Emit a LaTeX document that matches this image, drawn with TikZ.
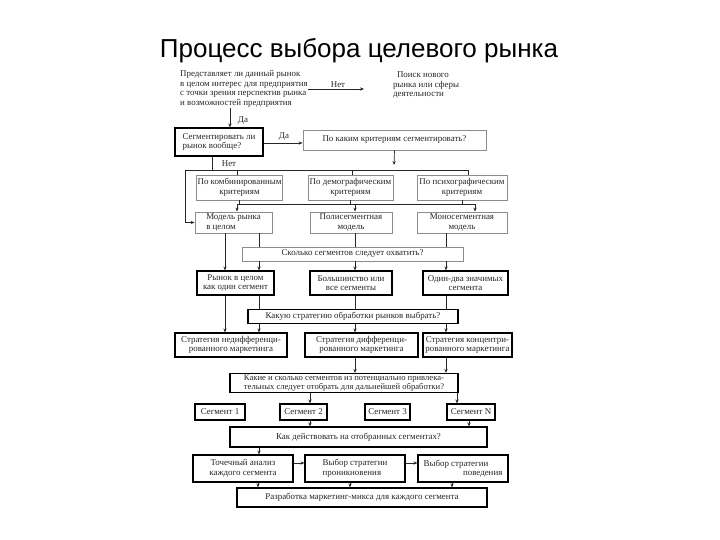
\documentclass[tikz,border=0pt]{standalone}
\usepackage{fontspec}
\setmainfont{Liberation Serif}
\newfontfamily\arialf{Liberation Sans}
\usetikzlibrary{arrows.meta}
\newcommand{\smallf}{\fontsize{8.9}{9.6}\selectfont}
\newcommand{\tightf}{\fontsize{8.6}{8.8}\selectfont}
\tikzset{
  bx/.style={draw=black, line width=1.1pt, inner sep=1pt, font=\smallf, align=center, text=black!85},
  bxl/.style={draw=black!45, line width=0.8pt, inner sep=1pt, font=\smallf, align=center, text=black!85},
  txt/.style={inner sep=0pt, font=\smallf, text=black!85},
  ln/.style={line width=0.7pt, draw=black!85},
  arr/.style={ln, -{Stealth[length=4pt,width=3.2pt]}},
  lbl/.style={inner sep=0pt, font=\smallf, text=black!85}
}
\begin{document}
\begin{tikzpicture}[x=1pt,y=-1pt]
\useasboundingbox (0,0) rectangle (720,540);
\fill[white] (0,0) rectangle (720,540);

\node[font=\arialf\fontsize{26}{29}\selectfont] (title) at (359,51) {Процесс выбора целевого рынка};

% top
\node[txt, align=left] (n1) at (244,89) {Представляет ли данный рынок\\в целом интерес для предприятия\\с точки зрения перспектив рынка\\и возможностей предприятия};
\node[txt, align=left] (search) at (426,85) {\hspace*{4pt}Поиск нового\\рынка или сферы\\деятельности};
\coordinate (sarr) at (364,89);
\draw[arr] (n1.east |- sarr) -- (sarr);
\node[lbl] (lnet1) at (338,85) {Нет};

\node[bx, align=left, minimum width=88pt, minimum height=28pt] (b2) at (219,142) {Сегментировать ли\\рынок вообще?};
\draw[arr] (230,0 |- n1.south) -- (230,0 |- b2.north);
\node[lbl] (lda1) at (243,121) {Да};

\node[bxl, minimum width=183pt, minimum height=20pt] (b3) at (394.5,140) {По каким критериям сегментировать?};
\draw[arr] (b2.east |- 0,143) -- (b3.west |- 0,143);
\node[lbl] (lda2) at (284,137) {Да};
\coordinate (b3end) at (394,165);
\draw[arr] (b3.south) -- (b3end);

% bus 1
\coordinate (busL) at (185,170);
\coordinate (busR) at (468,170);
\draw[ln] (212,0 |- b2.south) -- (212,170);
\node[lbl] (lnet2) at (229,164) {Нет};
\draw[ln] (busL) -- (busR);

% criteria
\node[bxl, minimum width=85pt, minimum height=25pt] (c1) at (239.5,187.5) {По комбинированным\\критериям};
\node[bxl, minimum width=85pt, minimum height=25pt] (c2) at (350.5,187.5) {По демографическим\\критериям};
\node[bxl, minimum width=90pt, minimum height=25pt] (c3) at (462,187.5) {По психографическим\\критериям};
\draw[ln] (237,170) -- (237,0 |- c1.north);
\draw[ln] (352,170) -- (352,0 |- c2.north);
\draw[ln] (468,170) -- (468,0 |- c3.north);

% bus 2
\draw[ln] (c1.south) -- (239.5,204);
\draw[ln] (c2.south) -- (350.5,204);
\draw[ln] (c3.south) -- (462,204);
\draw[ln] (237,204) -- (475,204);

% models
\node[bxl, align=left, minimum width=77pt, minimum height=21pt] (m1) at (233.5,222.5) {Модель рынка\\в целом\hspace*{22pt}};
\node[bxl, minimum width=82pt, minimum height=21pt] (m2) at (351,222.5) {Полисегментная\\модель};
\node[bxl, minimum width=90pt, minimum height=21pt] (m3) at (462,222.5) {Моносегментная\\модель};
\draw[arr] (237,204) -- (237,0 |- m1.north);
\draw[arr] (355,204) -- (355,0 |- m2.north);
\draw[arr] (475,204) -- (475,0 |- m3.north);
\draw[arr] (busL) -- (185,0 |- m1.west) -- (m1.west);

% how many segments
\node[bxl, minimum width=221pt, minimum height=14pt] (q2) at (352.5,254) {Сколько сегментов следует охватить?};
\draw[ln] (259,0 |- m1.south) -- (259,0 |- q2.north);
\draw[ln] (355,0 |- m2.south) -- (355,0 |- q2.north);
\draw[ln] (446,0 |- m3.south) -- (446,0 |- q2.north);

% row 7
\node[bx, minimum width=77pt, minimum height=24pt] (r1) at (235.5,283) {Рынок в целом\\как один сегмент};
\node[bx, minimum width=82pt, minimum height=24pt] (r2) at (351,283) {Большинство или\\все сегменты};
\node[bx, minimum width=85pt, minimum height=24pt] (r3) at (465.5,283) {Один-два значимых\\сегмента};
\draw[arr] (225,0 |- m1.south) -- (225,0 |- r1.north);
\draw[arr] (259,0 |- q2.south) -- (259,0 |- r1.north);
\draw[arr] (355,0 |- q2.south) -- (355,0 |- r2.north);
\draw[arr] (446,0 |- q2.south) -- (446,0 |- r3.north);

% strategy question
\node[bx, minimum width=210pt, minimum height=14pt] (q3) at (353,316.5) {Какую стратегию обработки рынков выбрать?};
\draw[ln] (259,0 |- r1.south) -- (259,0 |- q3.north);
\draw[ln] (355,0 |- r2.south) -- (355,0 |- q3.north);
\draw[ln] (446,0 |- r3.south) -- (446,0 |- q3.north);

% row 9
\node[bx, minimum width=112pt, minimum height=24pt] (s1) at (231,345) {Стратегия недифференци-\\рованного маркетинга};
\node[bx, minimum width=113pt, minimum height=24pt] (s2) at (361.5,345) {Стратегия дифференци-\\рованного маркетинга};
\node[bx, minimum width=89pt, minimum height=24pt, inner sep=0pt] (s3) at (467.5,345) {Стратегия концентри-\\рованного маркетинга};
\draw[arr] (225,0 |- r1.south) -- (225,0 |- s1.north);
\draw[arr] (259,0 |- q3.south) -- (259,0 |- s1.north);
\draw[arr] (355,0 |- q3.south) -- (355,0 |- s2.north);
\draw[arr] (446,0 |- q3.south) -- (446,0 |- s3.north);

% which segments
\node[bx, minimum width=228pt, minimum height=19pt, font=\tightf] (q4) at (344,383) {Какие и сколько сегментов из потенциально привлека-\\тельных следует отобрать для дальнейшей обработки?};
\draw[arr] (355,0 |- s2.south) -- (355,0 |- q4.north);
\draw[arr] (446,0 |- s3.south) -- (446,0 |- q4.north);

% segments
\node[bx, minimum width=50pt, minimum height=16pt] (g1) at (220,412) {Сегмент 1};
\node[bx, minimum width=47pt, minimum height=16pt] (g2) at (303.5,412) {Сегмент 2};
\node[bx, minimum width=45pt, minimum height=16pt] (g3) at (387.5,412) {Сегмент 3};
\node[bx, minimum width=48pt, minimum height=16pt] (gN) at (471,412) {Сегмент N};
\draw[arr] (310,0 |- q4.south) -- (310,0 |- g2.north);
\draw[arr] (457,0 |- q4.south) -- (457,0 |- gN.north);

% how to act
\node[bx, minimum width=257pt, minimum height=20pt] (q5) at (358.5,437) {Как действовать на отобранных сегментах?};
\draw[arr] (310,0 |- g2.south) -- (310,0 |- q5.north);
\draw[arr] (469,0 |- gN.south) -- (469,0 |- q5.north);

% row 13
\node[bx, minimum width=100pt, minimum height=27pt] (t1) at (243,468.5) {Точечный анализ\\каждого сегмента};
\node[bx, align=left, minimum width=100pt, minimum height=27pt] (t2) at (355,468.5) {Выбор стратегии\\проникновения};
\node[bx, align=right, minimum width=90pt, minimum height=27pt] (t3) at (463,468.5) {Выбор стратегии\hspace*{14pt}\\поведения};
\draw[arr] (259,0 |- q5.south) -- (259,0 |- t1.north);
\draw[arr] (t1.east |- 0,463) -- (t2.west |- 0,463);
\draw[arr] (t2.east |- 0,463) -- (t3.west |- 0,463);

% final
\node[bx, minimum width=250pt, minimum height=19pt] (u) at (362,497.5) {Разработка маркетинг-микса для каждого сегмента};
\draw[arr] (258,0 |- t1.south) -- (258,0 |- u.north);
\draw[arr] (350,0 |- t2.south) -- (350,0 |- u.north);
\draw[arr] (452,0 |- t3.south) -- (452,0 |- u.north);
\end{tikzpicture}
\end{document}
